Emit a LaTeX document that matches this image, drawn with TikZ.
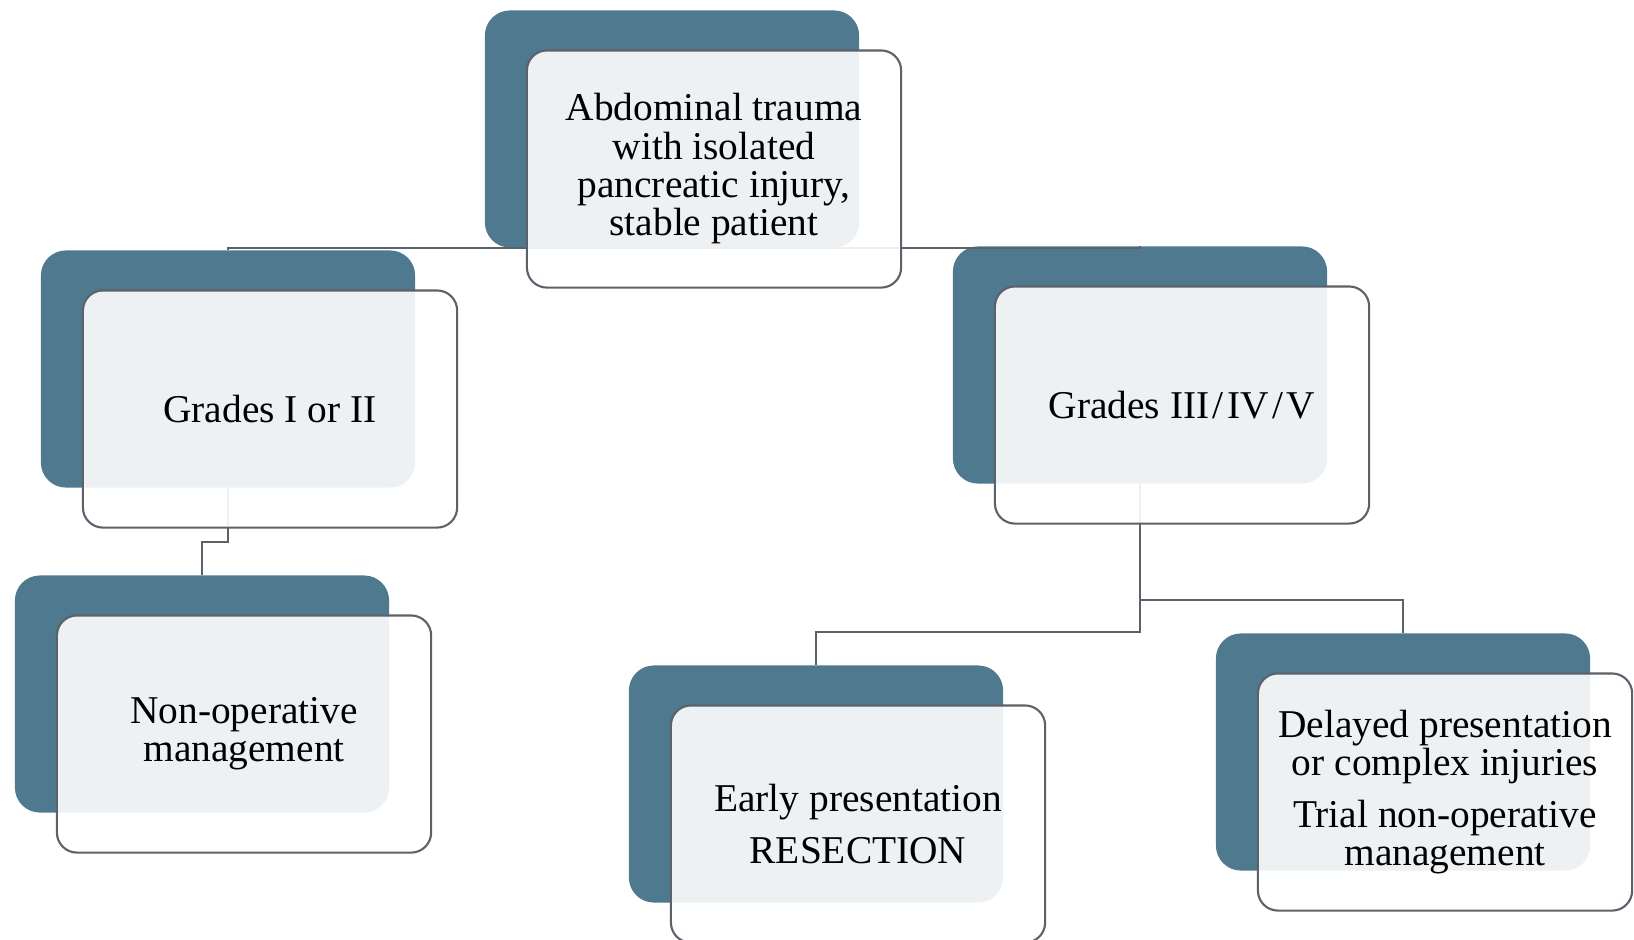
\documentclass[tikz,border=0pt]{standalone}
\usepackage{fontspec}
\setmainfont{Liberation Serif}
\usetikzlibrary{positioning}

\definecolor{azulfundo}{RGB}{78,121,142}
\definecolor{cinzalinha}{RGB}{92,98,106}

\begin{document}
\begin{tikzpicture}[x=0.01cm, y=-0.01cm,
    fundo/.style={fill=azulfundo, rounded corners=0.25cm, minimum width=3.74cm, minimum height=2.37cm, inner sep=0pt},
    frente/.style={draw=cinzalinha, line width=0.6pt, fill=white, fill opacity=0.9, text opacity=1,
        rounded corners=0.2cm, minimum width=3.74cm, minimum height=2.37cm, inner sep=0pt,
        align=center, font=\fontsize{11.2}{10.9}\selectfont, xshift=0.42cm, yshift=-0.40cm},
    ligacao/.style={draw=cinzalinha, line width=0.6pt}]

    % Limites da figura
    \useasboundingbox (0,0) rectangle (1634,940);

    % Caixas de fundo
    \node[fundo] (topb) at (672,129) {};
    \node[fundo] (gr12b) at (228,369) {};
    \node[fundo] (gr35b) at (1140,365) {};
    \node[fundo] (nonopb) at (202,694) {};
    \node[fundo] (earlyb) at (816,784) {};
    \node[fundo] (delayb) at (1403,752) {};

    % Ligações
    \draw[ligacao] (topb.south) -| (gr12b.north);
    \draw[ligacao] (topb.south) -| (gr35b.north);
    \draw[ligacao] (gr12b.south) -- ++(0,54) -| (nonopb.north);
    \draw[ligacao] (gr35b.south) -- ++(0,148) -| (earlyb.north);
    \draw[ligacao] (gr35b.south) -- ++(0,116) -| (delayb.north);

    % Caixas da frente com texto
    \node[frente] (top) at (topb) {Abdominal trauma\\with isolated\\pancreatic injury,\\stable patient};
    \node[frente] (gr12) at (gr12b) {Grades I or II};
    \node[frente] (gr35) at (gr35b) {Grades III\kern1pt/\kern1pt IV\kern1pt/\kern1pt V};
    \node[frente] (nonop) at (nonopb) {Non-operative\\management};
    \node[frente] (early) at (earlyb) {Early presentation\\[3.7pt]RESECTION};
    \node[frente] (delay) at (delayb) {Delayed presentation\\or complex injuries\\[3.7pt]Trial non-operative\\management};

\end{tikzpicture}
\end{document}
